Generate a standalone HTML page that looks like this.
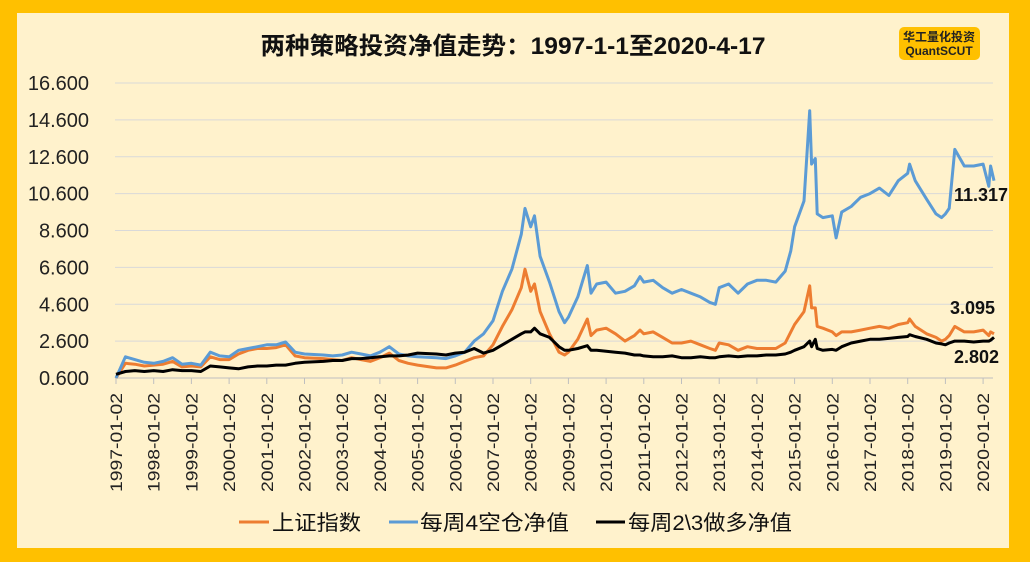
<!DOCTYPE html>
<html><head><meta charset="utf-8"><style>
body{margin:0;background:#FFC000;}
#wrap{position:relative;width:1030px;height:562px;background:#FFC000;overflow:hidden;}
svg{position:absolute;left:0;top:0;}
text{font-family:"Liberation Sans","Noto Sans CJK SC",sans-serif;}
</style></head><body>
<div id="wrap">
<svg id="chart" width="1030" height="562">
<rect x="17" y="13" width="992" height="535" fill="#FFF2CC"/>
<text x="513" y="54" text-anchor="middle" font-size="24" font-weight="bold" fill="#111" textLength="505" lengthAdjust="spacingAndGlyphs">两种策略投资净值走势：1997-1-1至2020-4-17</text>
<g>
<rect x="899" y="27" width="81" height="33" rx="5" fill="#FFC000"/>
<text x="939" y="41" text-anchor="middle" font-size="12" font-weight="bold" fill="#222">华工量化投资</text>
<text x="939" y="55" text-anchor="middle" font-size="12" font-weight="bold" fill="#222">QuantSCUT</text>
</g>
<g id="grid"></g><g id="yaxis"></g><g id="xaxis"></g><g id="series"></g>
<g font-size="18" font-weight="bold" fill="#111">
<text x="954" y="201">11.317</text>
<text x="950" y="314">3.095</text>
<text x="954" y="363">2.802</text>
</g>
<g font-size="21" fill="#111">
<line x1="239" y1="522" x2="269" y2="522" stroke="#ED7D31" stroke-width="3"/>
<text x="272" y="530" textLength="89" lengthAdjust="spacingAndGlyphs">上证指数</text>
<line x1="389" y1="522" x2="418" y2="522" stroke="#5B9BD5" stroke-width="3"/>
<text x="420" y="530" textLength="149" lengthAdjust="spacingAndGlyphs">每周4空仓净值</text>
<line x1="596" y1="522" x2="625" y2="522" stroke="#000" stroke-width="3"/>
<text x="628" y="530" textLength="164" lengthAdjust="spacingAndGlyphs">每周2\3做多净值</text>
</g>
</svg>
</div>
<script>
const dates=[1997.0,1997.25,1997.5,1997.75,1998.0,1998.25,1998.5,1998.75,1999.0,1999.25,1999.5,1999.75,2000.0,2000.25,2000.5,2000.75,2001.0,2001.25,2001.5,2001.75,2002.0,2002.5,2002.75,2003.0,2003.25,2003.5,2003.75,2004.0,2004.25,2004.5,2004.75,2005.0,2005.5,2005.75,2006.0,2006.25,2006.5,2006.75,2007.0,2007.25,2007.5,2007.75,2007.85,2008.0,2008.1,2008.25,2008.5,2008.75,2008.9,2009.0,2009.25,2009.5,2009.6,2009.75,2010.0,2010.25,2010.5,2010.75,2010.9,2011.0,2011.25,2011.5,2011.75,2012.0,2012.25,2012.5,2012.75,2012.9,2013.0,2013.25,2013.5,2013.75,2014.0,2014.25,2014.5,2014.75,2014.9,2015.0,2015.25,2015.4,2015.45,2015.55,2015.6,2015.75,2016.0,2016.1,2016.25,2016.5,2016.75,2017.0,2017.25,2017.5,2017.75,2018.0,2018.05,2018.2,2018.5,2018.75,2018.9,2019.0,2019.1,2019.25,2019.5,2019.75,2020.0,2020.15,2020.2,2020.29];
const shIndex=[0.6,1.4,1.35,1.25,1.3,1.35,1.5,1.2,1.25,1.2,1.75,1.6,1.6,1.9,2.1,2.2,2.2,2.25,2.4,1.8,1.7,1.65,1.6,1.55,1.7,1.6,1.5,1.7,1.95,1.55,1.4,1.3,1.15,1.15,1.3,1.5,1.7,1.8,2.4,3.4,4.3,5.5,6.5,5.3,5.7,4.2,3.0,2.0,1.85,2.0,2.7,3.8,2.9,3.2,3.3,3.0,2.6,2.9,3.2,3.0,3.1,2.8,2.5,2.5,2.6,2.4,2.2,2.1,2.5,2.4,2.1,2.3,2.2,2.2,2.2,2.5,3.1,3.5,4.2,5.6,4.4,4.4,3.4,3.3,3.1,2.9,3.1,3.1,3.2,3.3,3.4,3.3,3.5,3.6,3.8,3.4,3.0,2.8,2.6,2.7,2.9,3.4,3.1,3.1,3.2,2.9,3.1,3.0];
const blueNav=[0.6,1.75,1.6,1.45,1.4,1.5,1.7,1.35,1.4,1.3,2.0,1.8,1.75,2.1,2.2,2.3,2.4,2.4,2.55,2.0,1.9,1.85,1.8,1.85,2.0,1.9,1.8,2.0,2.3,1.9,1.8,1.75,1.7,1.65,1.8,2.0,2.6,3.0,3.7,5.3,6.5,8.4,9.8,8.8,9.4,7.2,5.8,4.2,3.6,3.9,5.0,6.7,5.2,5.7,5.8,5.2,5.3,5.6,6.1,5.8,5.9,5.5,5.2,5.4,5.2,5.0,4.7,4.6,5.5,5.7,5.2,5.7,5.9,5.9,5.8,6.4,7.5,8.8,10.2,15.1,12.2,12.5,9.5,9.3,9.4,8.2,9.6,9.9,10.4,10.6,10.9,10.5,11.3,11.7,12.2,11.3,10.3,9.5,9.3,9.5,9.8,13.0,12.1,12.1,12.2,11.0,12.1,11.3];
const longNav=[0.8,0.95,1.0,0.95,1.0,0.95,1.05,1.0,1.0,0.95,1.25,1.2,1.15,1.1,1.2,1.25,1.25,1.3,1.3,1.4,1.45,1.5,1.55,1.55,1.65,1.65,1.7,1.75,1.8,1.8,1.85,1.95,1.9,1.85,1.95,2.0,2.2,1.95,2.1,2.4,2.7,3.0,3.1,3.1,3.3,3.0,2.8,2.3,2.1,2.1,2.2,2.35,2.1,2.1,2.05,2.0,1.95,1.85,1.85,1.8,1.75,1.75,1.8,1.7,1.7,1.75,1.7,1.7,1.75,1.8,1.75,1.8,1.8,1.85,1.85,1.9,2.0,2.1,2.3,2.6,2.3,2.7,2.2,2.1,2.15,2.1,2.3,2.5,2.6,2.7,2.7,2.75,2.8,2.85,2.95,2.85,2.7,2.5,2.45,2.4,2.5,2.6,2.6,2.55,2.6,2.6,2.65,2.8];
const yTicks=[0.6,2.6,4.6,6.6,8.6,10.6,12.6,14.6,16.6];
const yearTicks=[1997,1998,1999,2000,2001,2002,2003,2004,2005,2006,2007,2008,2009,2010,2011,2012,2013,2014,2015,2016,2017,2018,2019,2020];

const NS="http://www.w3.org/2000/svg";
const X0=116,XPY=37.7,PL=115,PR=993,YB=378,YT=83;
function xs(t){return X0+(t-1997)*XPY;}
function ys(v){return YB-(v-0.6)/16*(YB-YT);}
function mk(tag,attrs,parent){const e=document.createElementNS(NS,tag);for(const k in attrs)e.setAttribute(k,attrs[k]);parent.appendChild(e);return e;}
const grid=document.getElementById('grid'),ya=document.getElementById('yaxis'),xa=document.getElementById('xaxis'),se=document.getElementById('series');
yTicks.forEach(v=>{
  const l=mk('line',{x1:PL,x2:PR,y1:ys(v),y2:ys(v),stroke:'#D9D9D9','stroke-width':1},grid);
  
  
  const t=mk('text',{x:89,y:ys(v)+7,'text-anchor':'end','font-size':20,fill:'#222'},ya);
  t.textContent=v.toFixed(3);
  
  
});
const ax=mk('line',{x1:PL,x2:PR,y1:YB,y2:YB,stroke:'#BFBFBF','stroke-width':1},xa);


yearTicks.forEach(y=>{
  const x=xs(y);
  const tk=mk('line',{x1:x,x2:x,y1:YB,y2:YB+6,stroke:'#BFBFBF'},xa);
  
  
  const t=mk('text',{x:0,y:0,'text-anchor':'end','font-size':17,fill:'#222',textLength:99,lengthAdjust:'spacingAndGlyphs',transform:`translate(${x+6},393) rotate(-90)`},xa);
  t.textContent=y+'-01-02';
  
  
});
function line(vals,color,name){
  const pts=dates.map((d,i)=>xs(d).toFixed(1)+','+ys(vals[i]).toFixed(1)).join(' ');
  const p=mk('polyline',{points:pts,fill:'none',stroke:color,'stroke-width':3,'stroke-linejoin':'round'},se);
  
  
}
line(shIndex,'#ED7D31','series-shanghai-index');
line(blueNav,'#5B9BD5','series-week4-cash');
line(longNav,'#000000','series-week23-long');
</script>
</body></html>
